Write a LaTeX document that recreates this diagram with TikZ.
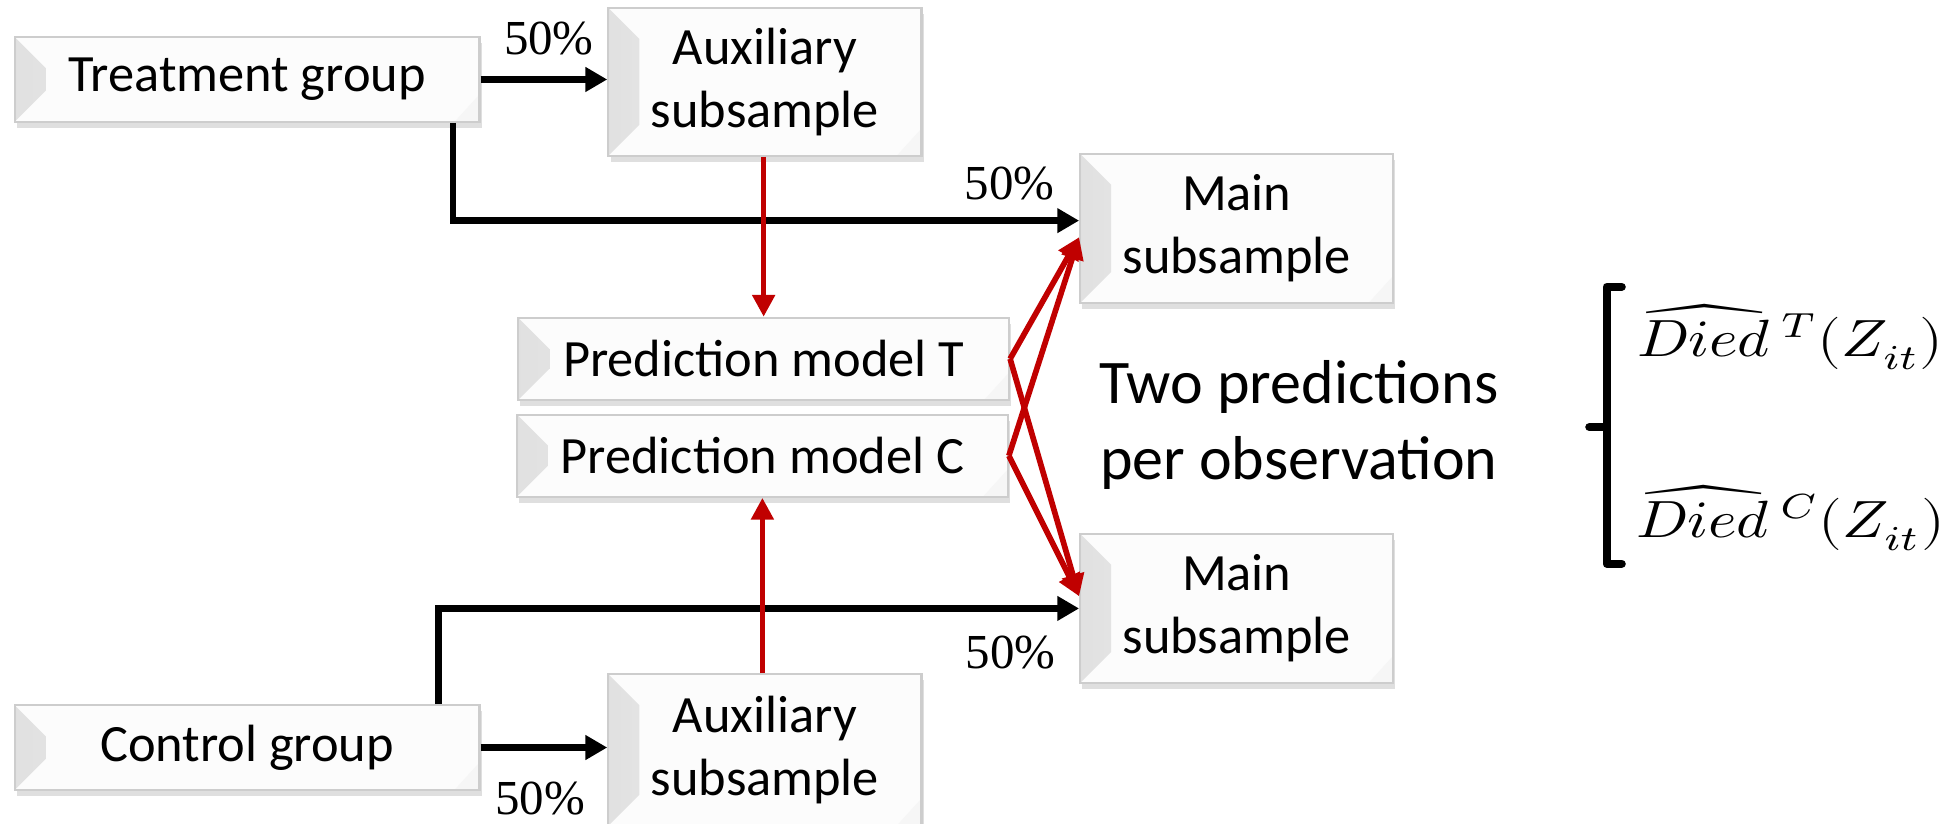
\documentclass[tikz,border=0pt]{standalone}
\usepackage{fontspec}
\usepackage{unicode-math}
\usepackage{graphicx}
\setmainfont{Carlito}
\setmathfont{Latin Modern Math}
\newfontfamily\pctfont{Liberation Serif}
\usetikzlibrary{arrows.meta,shadows,calc,positioning}
\definecolor{darkred}{RGB}{192,0,0}
\definecolor{boxline}{RGB}{205,205,205}

\tikzset{
  bevelbox/.style={draw=boxline, line width=0.5pt, fill=gray!2, align=center,
    font=\fontsize{12}{14.4}\selectfont, inner sep=0pt,
    drop shadow={shadow xshift=0.5pt, shadow yshift=-1.4pt, opacity=0.25, fill=gray},
    path picture={
      \fill[left color=gray!24, right color=gray!2]
        (path picture bounding box.north west) --
        ($(path picture bounding box.north west)+(25,25)$) --
        ($(path picture bounding box.south west)+(25,-25)$) --
        (path picture bounding box.south west) -- cycle;
      \fill[gray!7]
        (path picture bounding box.south east) --
        ($(path picture bounding box.south east)+(-20,0)$) --
        ($(path picture bounding box.south east)+(0,-22)$) -- cycle;
    }},
  groupbox/.style={bevelbox, minimum width=3.74cm, minimum height=0.68cm},
  subbox/.style={bevelbox, minimum width=2.52cm, minimum height=1.19cm},
  mainbox/.style={bevelbox, minimum width=2.52cm, minimum height=1.2cm},
  modelbox/.style={bevelbox, minimum width=3.95cm, minimum height=0.66cm},
  pct/.style={font=\pctfont\fontsize{11.2}{12}\selectfont, anchor=base},
  bigtext/.style={font=\fontsize{14.2}{17}\selectfont, anchor=base},
  mathtext/.style={font=\fontsize{12}{12}\selectfont, anchor=base},
  blkarrow/.style={line width=1.5pt, -{Triangle[length=5pt,width=5.4pt]}},
  redarrow/.style={draw=darkred, line width=1.3pt, -{Triangle[length=5pt,width=5pt]}}
}
\newcommand{\widemath}[1]{\scalebox{1.17}[1]{$#1$}}

\begin{document}
\begin{tikzpicture}[x=0.01cm, y=-0.01cm]
  \useasboundingbox (0,0) rectangle (1568,663);

  % Boxes
  \node[groupbox] (treat) at (199,64) {Treatment group};
  \node[subbox] (auxT) at (616,66) {Auxiliary\\subsample};
  \node[mainbox] (mainT) at (996,184) {Main\\subsample};
  \node[modelbox] (predT) at (615,289) {Prediction model T};
  \node[modelbox] (predC) at (614,367) {Prediction model C};
  \node[mainbox] (mainB) at (996,490) {Main\\subsample};
  \node[groupbox] (control) at (199,602) {Control group};
  \node[subbox, minimum height=1.22cm] (auxC) at (616,604) {Auxiliary\\subsample};

  % Splits
  \draw[blkarrow] (treat.east) -- (auxT.west |- treat.east);
  \draw[blkarrow] ($(treat.south east)+(-22,0)$) |- ([yshift=1.8pt]mainT.west);
  \draw[blkarrow] (control.east) -- (auxC.west |- control.east);
  \draw[blkarrow] ($(control.north east)+(-34,0)$) |- (mainB.west);

  % Percent labels
  \node[pct] (pctA) at (442,44) {50\%};
  \node[pct] (pctB) at (813,161) {50\%};
  \node[pct] (pctC) at (814,538) {50\%};
  \node[pct] (pctD) at (435,656) {50\%};

  % Training
  \draw[redarrow] (predT.north |- auxT.south) -- (predT.north);
  \draw[redarrow] (predC.south |- auxC.north) -- (predC.south);

  % Predictions
  \foreach \m in {predT,predC}
    \foreach \s/\dy in {mainT/-2pt,mainB/2.8pt}
      \draw[redarrow] (\m.east) -- ([yshift=\dy]\s.west);

  % Right-hand side
  \node[bigtext] (twopred) at (1046,325) {Two predictions};
  \node[bigtext] (perobs) at (1046,386) {per observation};
  \draw[line width=1.9pt, line cap=round, line join=round]
    (1306,231) -- (1294,231) -- (1294,454) -- (1306,454);
  \draw[line width=1.9pt, line cap=round] (1294,344) -- (1280,344);
  \node[mathtext] (predTout) at (1442,287) {\widemath{\widehat{Died}\,{}^{T}(Z_{it})}};
  \node[mathtext] (predCout) at (1442,433) {\widemath{\widehat{Died}\,{}^{C}(Z_{it})}};
\end{tikzpicture}
\end{document}
